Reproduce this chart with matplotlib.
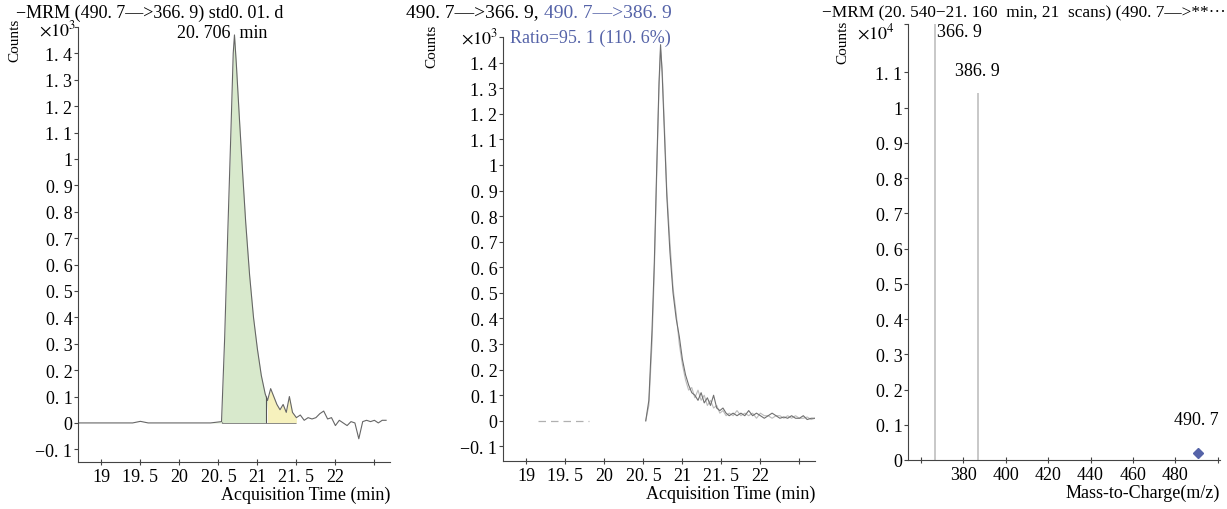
import matplotlib
matplotlib.use("Agg")
import matplotlib.pyplot as plt
import numpy as np

plt.rcParams["font.family"] = ["Liberation Serif", "DejaVu Serif"]
plt.rcParams["mathtext.fontset"] = "stix"

# --- panel 1: quantifier chromatogram 490.7->366.9 (counts x10^3) ---
time_a = [18.70, 19.40, 19.50, 19.60, 20.40, 20.54, 20.58, 20.62, 20.66, 20.69,
          20.706, 20.73, 20.77, 20.81, 20.85, 20.90, 20.95, 21.00, 21.05, 21.10,
          21.13, 21.17, 21.21, 21.25, 21.29, 21.33, 21.37, 21.41, 21.45, 21.50,
          21.55, 21.60, 21.65, 21.70, 21.75, 21.80, 21.85, 21.90, 21.95, 22.00,
          22.05, 22.10, 22.15, 22.20, 22.25, 22.30, 22.35, 22.40, 22.45, 22.50,
          22.55, 22.60, 22.65]
counts_a = [0, 0, 0.006, 0, 0, 0.005, 0.32, 0.72, 1.10, 1.40,
            1.47, 1.36, 1.15, 0.95, 0.76, 0.56, 0.40, 0.28, 0.18, 0.11,
            0.085, 0.13, 0.10, 0.07, 0.05, 0.07, 0.04, 0.10, 0.04, 0.02,
            0.03, 0.01, 0.02, 0.015, 0.02, 0.035, 0.045, 0.015, 0.02, -0.01,
            0.01, 0.0, -0.01, 0.005, 0.0, -0.06, 0.005, 0.01, 0.005, 0.01,
            0.0, 0.01, 0.01]
peak_start, peak_end, tail_end = 20.54, 21.11, 21.50

# --- panel 2: quantifier + qualifier overlay ---
time_b = [20.53, 20.57, 20.61, 20.64, 20.67, 20.70, 20.72, 20.74, 20.77, 20.80,
          20.84, 20.88, 20.92, 20.96, 21.00, 21.04, 21.08, 21.12, 21.16, 21.20,
          21.24, 21.28, 21.32, 21.36, 21.40, 21.44, 21.48, 21.52, 21.56, 21.60,
          21.65, 21.70, 21.75, 21.80, 21.85, 21.90, 21.95, 22.00, 22.05, 22.10,
          22.15, 22.20, 22.25, 22.30, 22.35, 22.40, 22.45, 22.50, 22.55, 22.60,
          22.65, 22.70]
quant_b = [0.0, 0.08, 0.35, 0.62, 0.98, 1.32, 1.47, 1.36, 1.12, 0.88,
           0.66, 0.50, 0.40, 0.33, 0.24, 0.18, 0.14, 0.11, 0.10, 0.08,
           0.11, 0.07, 0.09, 0.06, 0.10, 0.05, 0.04, 0.05, 0.03, 0.02,
           0.03, 0.02, 0.03, 0.02, 0.04, 0.02, 0.03, 0.02, 0.01, 0.02,
           0.03, 0.02, 0.01, 0.015, 0.01, 0.02, 0.01, 0.01, 0.02, 0.005,
           0.01, 0.01]
qual_b = [0.0, 0.06, 0.30, 0.58, 0.95, 1.30, 1.45, 1.38, 1.15, 0.90,
          0.70, 0.52, 0.42, 0.30, 0.22, 0.16, 0.12, 0.13, 0.09, 0.12,
          0.08, 0.10, 0.06, 0.08, 0.05, 0.06, 0.03, 0.04, 0.02, 0.03,
          0.02, 0.04, 0.02, 0.03, 0.02, 0.03, 0.01, 0.03, 0.02, 0.02,
          0.01, 0.02, 0.02, 0.01, 0.02, 0.01, 0.02, 0.01, 0.01, 0.015,
          0.005, 0.01]
qual_base_t = [19.15, 19.80]
qual_base_c = [0.0, 0.0]

# --- panel 3: product ion spectrum (counts x10^4) ---
ion_mz = [366.9, 386.9]
ion_counts = [1.24, 1.04]
prec_mz = [490.7]
prec_counts = [0.02]

time_ticks = [19, 19.5, 20, 20.5, 21, 21.5, 22, 22.5]
count_ticks = [-0.1, 0, 0.1, 0.2, 0.3, 0.4, 0.5, 0.6, 0.7, 0.8, 0.9, 1, 1.1, 1.2, 1.3, 1.4]
ms_yticks = [0, 0.1, 0.2, 0.3, 0.4, 0.5, 0.6, 0.7, 0.8, 0.9, 1, 1.1]
mz_ticks = [360, 380, 400, 420, 440, 460, 480, 500]

BLUE = "#5563a8"
W, H = 1227, 510


def lab(v):
    s = f"{abs(v):g}".replace(".", ". ")
    return "\u2212" + s if v < 0 else s


def px(x, y):
    return x / W, 1 - y / H


def style(ax):
    for side in ("top", "right"):
        ax.spines[side].set_visible(False)
    ax.spines["left"].set_color("#444444")
    ax.spines["bottom"].set_color("#444444")
    ax.tick_params(axis="y", direction="out", length=3, labelsize=13, pad=1, color="#444444")
    ax.tick_params(axis="x", direction="inout", length=5, labelsize=13, pad=2, color="#444444")


fig = plt.figure(figsize=(W / 100, H / 100), dpi=100)
renderer = fig.canvas.get_renderer()


def add_ax(l, t, r, b):
    x0, y1 = px(l, t)
    x1, y0 = px(r, b)
    return fig.add_axes([x0, y0, x1 - x0, y1 - y0])


# panel 1
ax1 = add_ax(78, 28, 390, 463)
ta = np.array(time_a)
ca = np.array(counts_a)
ax1.fill_between(ta, ca, 0, where=(ta >= peak_start) & (ta <= peak_end),
                 color="#d8e9cc", interpolate=True, lw=0)
ax1.fill_between(ta, ca, 0, where=(ta >= peak_end) & (ta <= tail_end),
                 color="#f6f1bd", interpolate=True, lw=0)
ax1.plot(ta, ca, color="#666666", lw=0.8)
ax1.vlines([peak_start, peak_end], 0, np.interp([peak_start, peak_end], ta, ca),
           color="#555555", lw=0.8)
ax1.hlines(0, peak_start, tail_end, color="#777777", lw=0.6)
ax1.set_xlim(18.7, 22.7)
ax1.set_ylim(-0.148, 1.5)

# panel 2
ax2 = add_ax(503, 38, 815, 462)
ax2.plot(qual_base_t, qual_base_c, color="#b0b0b0", lw=0.9, ls=(0, (6, 4)))
ax2.plot(time_b, qual_b, color="#bcbcbc", lw=0.8)
ax2.plot(time_b, quant_b, color="#707070", lw=0.8)
ax2.set_xlim(18.7, 22.7)
ax2.set_ylim(-0.157, 1.5)

for ax in (ax1, ax2):
    style(ax)
    top = ax.get_ylim()[1]
    ax.set_xticks(time_ticks)
    ax.set_xticklabels([lab(v) if v < 22.5 else "" for v in time_ticks])
    ax.set_yticks(count_ticks + [top])
    ax.set_yticklabels([lab(v) for v in count_ticks] + [""])
    ax.set_xlabel("Acquisition Time (min)", fontsize=13, loc="right", labelpad=0)

# panel 3
ax3 = add_ax(908, 25, 1220, 461)
ax3.vlines(ion_mz, 0, ion_counts, color="#c4c4c4", lw=1.3)
ax3.plot(prec_mz, prec_counts, ls="none", marker="D", ms=5.5, color=BLUE)
ax3.set_xlim(354, 501)
ax3.set_ylim(0, 1.237)
style(ax3)
ax3.set_xticks(mz_ticks)
ax3.set_xticklabels(["" if v in (360, 500) else str(v) for v in mz_ticks])
ax3.set_yticks(ms_yticks + [1.237])
ax3.set_yticklabels([lab(v) for v in ms_yticks] + [""])
ax3.set_xlabel("Mass-to-Charge(m/z)", fontsize=13, loc="right", labelpad=0)
ax3.text(ion_mz[0] + 0.6, 1.215, lab(ion_mz[0]), fontsize=13, ha="left", va="center")
ax3.text(ion_mz[1], ion_counts[1] + 0.04, lab(ion_mz[1]), fontsize=13, ha="center", va="bottom")
ax3.text(prec_mz[0] - 1, prec_counts[0] + 0.07, lab(prec_mz[0]), fontsize=13, ha="center", va="bottom")

# titles and header texts
fig.text(*px(16, 13), "\u2212MRM (490. 7\u2014>366. 9) std0. 01. d", fontsize=13, va="center")
fig.text(*px(177, 33), "20. 706  min", fontsize=13, va="center")
t_black = fig.text(*px(406, 13), "490. 7\u2014>366. 9, ", fontsize=14, va="center")
x_end = t_black.get_window_extent(renderer).x1
fig.text(x_end / W, 1 - 13 / H, "490. 7\u2014>386. 9", fontsize=14, va="center", color=BLUE)
fig.text(*px(510, 38), "Ratio=95. 1 (110. 6%)", fontsize=13, va="center", color=BLUE)

t3 = fig.text(*px(822, 13), "\u2212MRM (20. 540\u221221. 160  min, 21  scans) (490. 7\u2014>**\u00b7\u00b7\u00b7",
              fontsize=13, va="center")
w3 = t3.get_window_extent(renderer).width
t3.set_fontsize(13 * min(1.0, 402 / w3))

for cx, cy, ex, ey, mult in [(15, 40, 76, 30, "3"), (432, 46, 498, 38, "3"), (843, 42, 895, 33, "4")]:
    fig.text(*px(cx, cy), "Counts", fontsize=11, rotation=90, ha="center", va="center")
    fig.text(*px(ex, ey), r"$\times10^{%s}$" % mult, fontsize=13, ha="right", va="center")

fig.savefig("out.png", dpi=100)
